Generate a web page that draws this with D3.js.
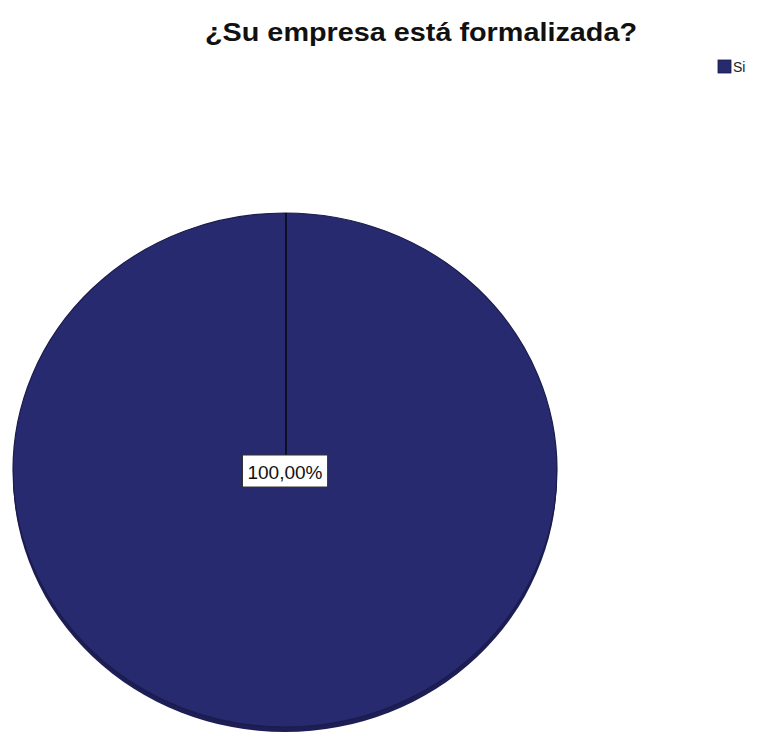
<!DOCTYPE html>
<html>
<head>
<meta charset="utf-8">
<script src="https://cdn.jsdelivr.net/npm/d3@7/dist/d3.min.js"></script>
<style>
  html, body { margin: 0; padding: 0; background: #fff; }
  svg { display: block; }
</style>
</head>
<body>
<svg id="chart" width="761" height="736"></svg>
<script>
const title = "¿Su empresa está formalizada?";
const categories = ["Si"];
const values = [100];
const colors = ["#272a6e"];

const svg = d3.select("#chart");
const W = 761, H = 736;
svg.append("rect").attr("width", W).attr("height", H).attr("fill", "#fff");

svg.append("text")
  .attr("x", 421).attr("y", 41)
  .attr("text-anchor", "middle")
  .attr("font-family", "Liberation Sans, Arial, sans-serif")
  .attr("font-weight", "bold")
  .attr("font-size", 26.5)
  .attr("textLength", 432)
  .attr("lengthAdjust", "spacingAndGlyphs")
  .attr("fill", "#111")
  .text(title);

// Legend
const legend = svg.append("g");
categories.forEach((c, i) => {
  legend.append("rect")
    .attr("x", 718).attr("y", 60 + i * 18)
    .attr("width", 13).attr("height", 13)
    .attr("fill", colors[i]).attr("stroke", "#15173f").attr("stroke-width", 0.8);
  legend.append("text")
    .attr("x", 733).attr("y", 72 + i * 18)
    .attr("font-family", "Liberation Sans, Arial, sans-serif")
    .attr("font-size", 14).attr("fill", "#222")
    .text(c);
});

// Pie
const cx = 285, cy = 470, rx = 272, ry = 257, depth = 5;
const pie = d3.pie().sort(null).value(d => d)(values);
const arc = d3.arc().innerRadius(0).outerRadius(rx);
const total = d3.sum(values);

// side / depth
const side = svg.append("g").attr("transform", `translate(${cx},${cy + depth}) scale(1,${ry / rx})`);
side.selectAll("path").data(pie).enter().append("path")
  .attr("d", arc).attr("fill", "#1c1e55");

const face = svg.append("g").attr("transform", `translate(${cx},${cy}) scale(1,${ry / rx})`);
face.selectAll("path").data(pie).enter().append("path")
  .attr("d", arc)
  .attr("fill", (d, i) => colors[i])
  .attr("stroke", "#1a1c4c").attr("stroke-width", 1.2)
  .attr("vector-effect", "non-scaling-stroke");

// slice boundary lines
pie.forEach(d => {
  const p = d3.pointRadial(d.startAngle, rx);
  svg.append("line")
    .attr("x1", cx + 1).attr("y1", cy)
    .attr("x2", cx + 1 + p[0]).attr("y2", cy + p[1] * ry / rx)
    .attr("stroke", "#000").attr("stroke-width", 1.3);
});

// labels
const fmt = v => (v / total * 100).toFixed(2).replace(".", ",") + "%";
pie.forEach(d => {
  const lx = cx, ly = cy;
  const g = svg.append("g");
  const t = g.append("text")
    .attr("x", lx).attr("y", ly + 9)
    .attr("text-anchor", "middle")
    .attr("font-family", "Liberation Sans, Arial, sans-serif")
    .attr("font-size", 19).attr("fill", "#111")
    .text(fmt(d.value));
  const bb = t.node().getBBox();
  g.insert("rect", "text")
    .attr("x", bb.x - 5).attr("y", ly - 15)
    .attr("width", bb.width + 10).attr("height", 32)
    .attr("fill", "#fff").attr("stroke", "#333").attr("stroke-width", 1);
});
</script>
</body>
</html>
